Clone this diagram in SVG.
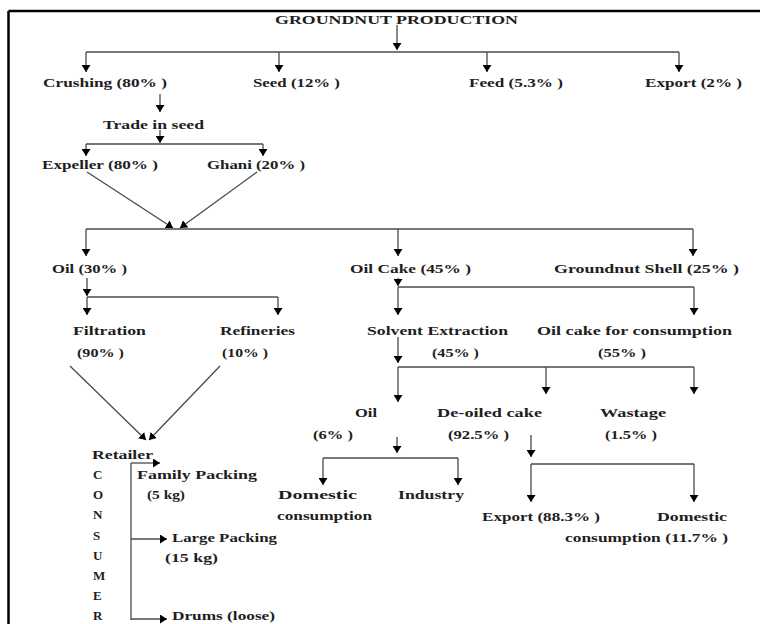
<svg xmlns="http://www.w3.org/2000/svg" width="760" height="624" viewBox="0 0 760 624">
<style>
text{font-family:"Liberation Serif","Times New Roman",serif;font-weight:bold;font-size:11.5px;fill:#1e1e1e}
#n-consumer text{font-size:13px}
.c path{fill:none;stroke:#4a4a4a;stroke-width:1.3}
.c .a{marker-end:url(#ah)}
</style>
<defs>
<marker id="ah" viewBox="0 0 7 9" refX="7" refY="4.5" markerWidth="7" markerHeight="9" markerUnits="userSpaceOnUse" orient="auto">
<path d="M0,0 L7,4.5 L0,9 z" fill="#000"/>
</marker>
</defs>
<rect width="760" height="624" fill="#fff"/>
<g id="frame">
<path d="M8.5,11 H760 M8.5,11 V624" stroke="#000" stroke-width="2.5" fill="none"/>
</g>
<g class="c" id="connectors">
<path class="a" d="M397,25 V50"/>
<path d="M86,52 H679"/>
<path class="a" d="M86,52 V72"/>
<path class="a" d="M279,52 V72"/>
<path class="a" d="M487,52 V72"/>
<path class="a" d="M679,52 V72"/>
<path class="a" d="M160,94 V112"/>
<path class="a" d="M160,130 V143"/>
<path d="M86,144 H263"/>
<path class="a" d="M86,144 V156"/>
<path class="a" d="M263,144 V156"/>
<path class="a" d="M87,172 L173,228"/>
<path class="a" d="M257,172 L180,228"/>
<path d="M86,229 H693"/>
<path class="a" d="M86,229 V256"/>
<path class="a" d="M398,229 V256"/>
<path class="a" d="M693,229 V256"/>
<path class="a" d="M87,278 V296"/>
<path d="M87,297 H278"/>
<path class="a" d="M87,297 V315"/>
<path class="a" d="M278,297 V315"/>
<path class="a" d="M398,278 V286"/>
<path d="M398,287 H694"/>
<path class="a" d="M398,287 V315"/>
<path class="a" d="M694,287 V315"/>
<path class="a" d="M398,337 V363"/>
<path class="a" d="M398,367 V402"/>
<path d="M398,367 H694"/>
<path class="a" d="M546,367 V394"/>
<path class="a" d="M694,367 V394"/>
<path class="a" d="M397,437 V453"/>
<path d="M323,458 H458"/>
<path class="a" d="M323,458 V485"/>
<path class="a" d="M458,458 V485"/>
<path class="a" d="M531,435 V457"/>
<path d="M531,464 H694"/>
<path class="a" d="M531,464 V502"/>
<path class="a" d="M694,464 V502"/>
<path class="a" d="M70,366 L146,440"/>
<path class="a" d="M220,366 L149,440"/>
<path d="M131,463 V620"/>
<path class="a" d="M131,463 H160"/>
<path class="a" d="M131,539 H167"/>
<path class="a" d="M131,619 H167"/>
</g>
<g id="n-title"><text x="275" y="24" textLength="243" lengthAdjust="spacingAndGlyphs">GROUNDNUT PRODUCTION</text></g>
<g id="n-crushing"><text x="43" y="87" textLength="124" lengthAdjust="spacingAndGlyphs">Crushing (80% )</text></g>
<g id="n-seed"><text x="253" y="87" textLength="87" lengthAdjust="spacingAndGlyphs">Seed (12% )</text></g>
<g id="n-feed"><text x="469" y="87" textLength="94" lengthAdjust="spacingAndGlyphs">Feed (5.3% )</text></g>
<g id="n-export"><text x="645" y="87" textLength="97" lengthAdjust="spacingAndGlyphs">Export (2% )</text></g>
<g id="n-trade"><text x="103" y="129" textLength="101" lengthAdjust="spacingAndGlyphs">Trade in seed</text></g>
<g id="n-expeller"><text x="42" y="169" textLength="116" lengthAdjust="spacingAndGlyphs">Expeller (80% )</text></g>
<g id="n-ghani"><text x="207" y="169" textLength="98" lengthAdjust="spacingAndGlyphs">Ghani (20% )</text></g>
<g id="n-oil"><text x="52" y="273" textLength="75" lengthAdjust="spacingAndGlyphs">Oil (30% )</text></g>
<g id="n-oilcake"><text x="350" y="273" textLength="121" lengthAdjust="spacingAndGlyphs">Oil Cake (45% )</text></g>
<g id="n-shell"><text x="554" y="273" textLength="185" lengthAdjust="spacingAndGlyphs">Groundnut Shell  (25% )</text></g>
<g id="n-filtration"><text x="73" y="335" textLength="73" lengthAdjust="spacingAndGlyphs">Filtration</text><text x="77" y="357" textLength="47" lengthAdjust="spacingAndGlyphs">(90% )</text></g>
<g id="n-refineries"><text x="220" y="335" textLength="75" lengthAdjust="spacingAndGlyphs">Refineries</text><text x="222" y="357" textLength="46" lengthAdjust="spacingAndGlyphs">(10% )</text></g>
<g id="n-solvent"><text x="367" y="335" textLength="141" lengthAdjust="spacingAndGlyphs">Solvent Extraction</text><text x="432" y="357" textLength="47" lengthAdjust="spacingAndGlyphs">(45% )</text></g>
<g id="n-oilcakecons"><text x="537" y="335" textLength="195" lengthAdjust="spacingAndGlyphs">Oil cake for consumption</text><text x="598" y="357" textLength="48" lengthAdjust="spacingAndGlyphs">(55% )</text></g>
<g id="n-oil6"><text x="355" y="417" textLength="22" lengthAdjust="spacingAndGlyphs">Oil</text><text x="313" y="439" textLength="40" lengthAdjust="spacingAndGlyphs">(6% )</text></g>
<g id="n-deoiled"><text x="437" y="417" textLength="105" lengthAdjust="spacingAndGlyphs">De-oiled cake</text><text x="448" y="439" textLength="61" lengthAdjust="spacingAndGlyphs">(92.5% )</text></g>
<g id="n-wastage"><text x="600" y="417" textLength="66" lengthAdjust="spacingAndGlyphs">Wastage</text><text x="605" y="439" textLength="52" lengthAdjust="spacingAndGlyphs">(1.5% )</text></g>
<g id="n-domestic1"><text x="278" y="499" textLength="79" lengthAdjust="spacingAndGlyphs">Domestic</text><text x="277" y="520" textLength="95" lengthAdjust="spacingAndGlyphs">consumption</text></g>
<g id="n-industry"><text x="398" y="499" textLength="66" lengthAdjust="spacingAndGlyphs">Industry</text></g>
<g id="n-export2"><text x="482" y="521" textLength="118" lengthAdjust="spacingAndGlyphs">Export (88.3% )</text></g>
<g id="n-domestic2"><text x="657" y="521" textLength="70" lengthAdjust="spacingAndGlyphs">Domestic</text><text x="565" y="542" textLength="163" lengthAdjust="spacingAndGlyphs">consumption (11.7% )</text></g>
<g id="n-retailer"><text x="92" y="459" textLength="61" lengthAdjust="spacingAndGlyphs">Retailer</text></g>
<g id="n-consumer">
<text x="93" y="479">C</text>
<text x="93" y="499">O</text>
<text x="93" y="519">N</text>
<text x="93" y="540">S</text>
<text x="93" y="560">U</text>
<text x="93" y="580">M</text>
<text x="93" y="600">E</text>
<text x="93" y="620">R</text>
</g>
<g id="n-family"><text x="137" y="479" textLength="120" lengthAdjust="spacingAndGlyphs">Family Packing</text><text x="147" y="499" textLength="38" lengthAdjust="spacingAndGlyphs">(5 kg)</text></g>
<g id="n-large"><text x="172" y="542" textLength="105" lengthAdjust="spacingAndGlyphs">Large Packing</text><text x="165" y="562" textLength="53" lengthAdjust="spacingAndGlyphs">(15 kg)</text></g>
<g id="n-drums"><text x="172" y="620" textLength="103" lengthAdjust="spacingAndGlyphs">Drums (loose)</text></g>
</svg>
